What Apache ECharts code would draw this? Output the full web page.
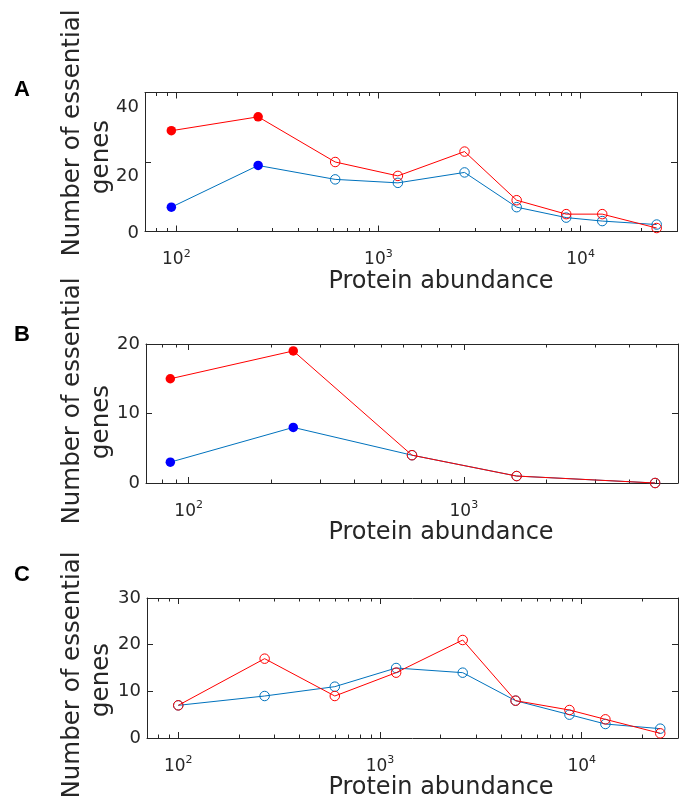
<!DOCTYPE html>
<html><head><meta charset="utf-8">
<script src="https://cdn.jsdelivr.net/npm/echarts@6/dist/echarts.min.js"></script>
<style>html,body{margin:0;padding:0;background:#fff}#c{width:685px;height:800px}</style>
</head><body><div id="c"></div>
<script>
// ---- Data ----
// Panel A
const A_abundance = [94.5, 254, 611, 1248, 2667, 4830, 8490, 12800, 23800];
const A_red = [29, 33, 20, 16, 23, 9, 5, 5, 1];
const A_blue = [7, 19, 15, 14, 17, 7, 4, 3, 2];
const A_filled = [true, true, false, false, false, false, false, false, false];
// Panel B
const B_abundance = [85.8, 240, 648, 1555, 4955];
const B_red = [15, 19, 4, 1, 0];
const B_blue = [3, 8, 4, 1, 0];
const B_filled = [true, true, false, false, false];
// Panel C
const C_abundance = [100, 268, 597, 1202, 2570, 4700, 8690, 13100, 24500];
const C_red = [7, 17, 9, 14, 21, 8, 6, 4, 1];
const C_blue = [7, 9, 11, 15, 14, 8, 5, 3, 2];
const C_filled = [false, false, false, false, false, false, false, false, false];
// Axis ticks
const majorTicksAC = [100, 1000, 10000];
const minorTicksAC = [70, 80, 90, 200, 300, 400, 500, 600, 700, 800, 900, 2000, 3000, 4000, 5000, 6000, 7000, 8000, 9000, 20000];
const majorTicksB = [100, 1000];
const minorTicksB = [70, 80, 90, 200, 300, 400, 500, 600, 700, 800, 900, 2000, 3000, 4000, 5000];
const xTitle = 'Protein abundance';
const yTitle1 = 'Number of essential';
const yTitle2 = 'genes';
const panelLetters = ['A', 'B', 'C'];

// ---- Styling ----
const FONT = 'DejaVu Sans';
const TXT = '#262626';
const RED = '#FF0000', BLUE_LINE = '#0072BD', BLUE_FILL = '#0000FF';

const panels = [
  {grid: {left: 145, top: 92.5, width: 532, height: 139}, xmin: 70, xmax: 30000, ymax: 40, yint: 20,
   majors: majorTicksAC, minors: minorTicksAC, x: A_abundance, red: A_red, blue: A_blue, filled: A_filled,
   shiftLabels: true},
  {grid: {left: 146, top: 344, width: 532, height: 139}, xmin: 70, xmax: 6000, ymax: 20, yint: 10,
   majors: majorTicksB, minors: minorTicksB, x: B_abundance, red: B_red, blue: B_blue, filled: B_filled},
  {grid: {left: 147, top: 598, width: 531, height: 140}, xmin: 70, xmax: 30000, ymax: 30, yint: 10,
   majors: majorTicksAC, minors: minorTicksAC, x: C_abundance, red: C_red, blue: C_blue, filled: C_filled}
];

const grids = [], xAxes = [], yAxes = [], series = [];
panels.forEach((p, i) => {
  grids.push(Object.assign({containLabel: false, outerBoundsMode: 'none'}, p.grid));
  const baseX = {gridIndex: i, type: 'log', logBase: 10, min: p.xmin, max: p.xmax,
    splitLine: {show: false}, minorTick: {show: false}, minorSplitLine: {show: false}};
  // bottom major (labels + title)
  const shift = (441 - (p.grid.left + p.grid.width / 2)) * 2;
  xAxes.push(Object.assign({}, baseX, {
    position: 'bottom',
    axisLine: {show: true, onZero: false, lineStyle: {color: TXT, width: 1}},
    axisTick: {show: true, inside: true, length: 6, customValues: p.majors, lineStyle: {color: TXT, width: 1}},
    axisLabel: {show: true, customValues: p.majors, margin: 17,
      formatter: v => {
        const e = Math.round(Math.log10(v));
        if (Math.abs(Math.pow(10, e) - v) > 1e-6 * v) return '';
        return '{b|10}{s|' + e + '}';
      },
      rich: {
        b: {fontFamily: FONT, fontSize: 17, color: TXT, lineHeight: 20, verticalAlign: 'bottom'},
        s: {fontFamily: FONT, fontSize: 11, color: TXT, lineHeight: 12, verticalAlign: 'top'}
      }},
    name: xTitle, nameLocation: 'middle', nameGap: 38,
    nameTextStyle: {fontFamily: FONT, fontSize: 24, color: TXT, padding: [0, 0, 0, shift]}
  }));
  // bottom minor
  xAxes.push(Object.assign({}, baseX, {
    position: 'bottom',
    axisLine: {show: false, onZero: false},
    axisTick: {show: true, inside: true, length: 3.5, customValues: p.minors, lineStyle: {color: TXT, width: 1}},
    axisLabel: {show: false}
  }));
  // top major
  xAxes.push(Object.assign({}, baseX, {
    position: 'top',
    axisLine: {show: true, onZero: false, lineStyle: {color: TXT, width: 1}},
    axisTick: {show: true, inside: true, length: 6, customValues: p.majors, lineStyle: {color: TXT, width: 1}},
    axisLabel: {show: false}
  }));
  // top minor
  xAxes.push(Object.assign({}, baseX, {
    position: 'top',
    axisLine: {show: false, onZero: false},
    axisTick: {show: true, inside: true, length: 3.5, customValues: p.minors, lineStyle: {color: TXT, width: 1}},
    axisLabel: {show: false}
  }));
  const baseY = {gridIndex: i, type: 'value', min: 0, max: p.ymax, interval: p.yint, splitLine: {show: false}};
  yAxes.push(Object.assign({}, baseY, {
    position: 'left',
    axisLine: {show: true, onZero: false, lineStyle: {color: TXT, width: 1}},
    axisTick: {show: true, inside: true, length: 6, lineStyle: {color: TXT, width: 1}},
    axisLabel: p.shiftLabels ? {
      fontFamily: FONT, fontSize: 18, color: TXT, margin: 6,
      formatter: v => v === 0 ? '{n|0}' : '{d|' + v + '}',
      rich: {
        n: {fontFamily: FONT, fontSize: 18, color: TXT, padding: [3, 0, 0, 0]},
        d: {fontFamily: FONT, fontSize: 18, color: TXT, padding: [29, 0, 0, 0]}
      }
    } : {fontFamily: FONT, fontSize: 18, color: TXT, margin: 6}
  }));
  yAxes.push(Object.assign({}, baseY, {
    position: 'right',
    axisLine: {show: true, onZero: false, lineStyle: {color: TXT, width: 1}},
    axisTick: {show: true, inside: true, length: 6, lineStyle: {color: TXT, width: 1}},
    axisLabel: {show: false}
  }));

  const mk = (ys, lineColor, fillColor, z) => ({
    type: 'line', xAxisIndex: 4 * i, yAxisIndex: 2 * i, z: z,
    clip: false, silent: true, animation: false,
    symbol: 'circle', symbolSize: 9.5,
    lineStyle: {color: lineColor, width: 1},
    itemStyle: {color: lineColor},
    data: p.x.map((v, k) => ({
      value: [v, ys[k]],
      itemStyle: p.filled[k]
        ? {color: fillColor, borderColor: fillColor, borderWidth: 0}
        : {color: 'rgba(255,255,255,0)', borderColor: lineColor, borderWidth: 1}
    }))
  });
  series.push(mk(p.blue, BLUE_LINE, BLUE_FILL, 2));
  series.push(mk(p.red, RED, RED, 3));
});

const graphics = [];
const letterPos = [[22, 90], [22, 335], [22, 575]];
const title1Pos = [[73, 133], [73, 401], [73, 675]];
const title2Pos = [[102, 157], [102, 422], [102, 680]];
panelLetters.forEach((L, i) => {
  graphics.push({type: 'text', x: letterPos[i][0], y: letterPos[i][1],
    style: {text: L, font: 'bold 22px "Liberation Sans"', fill: '#000', align: 'center', verticalAlign: 'middle'}});
  graphics.push({type: 'text', x: title1Pos[i][0], y: title1Pos[i][1], rotation: Math.PI / 2,
    style: {text: yTitle1, font: '24.5px "DejaVu Sans"', fill: TXT, align: 'center', verticalAlign: 'middle'}});
  graphics.push({type: 'text', x: title2Pos[i][0], y: title2Pos[i][1], rotation: Math.PI / 2,
    style: {text: yTitle2, font: '24.5px "DejaVu Sans"', fill: TXT, align: 'center', verticalAlign: 'middle'}});
});

const chart = echarts.init(document.getElementById('c'), null, {renderer: 'canvas'});
chart.setOption({
  animation: false,
  backgroundColor: '#ffffff',
  grid: grids,
  xAxis: xAxes,
  yAxis: yAxes,
  series: series,
  graphic: graphics
});
</script>
</body></html>
